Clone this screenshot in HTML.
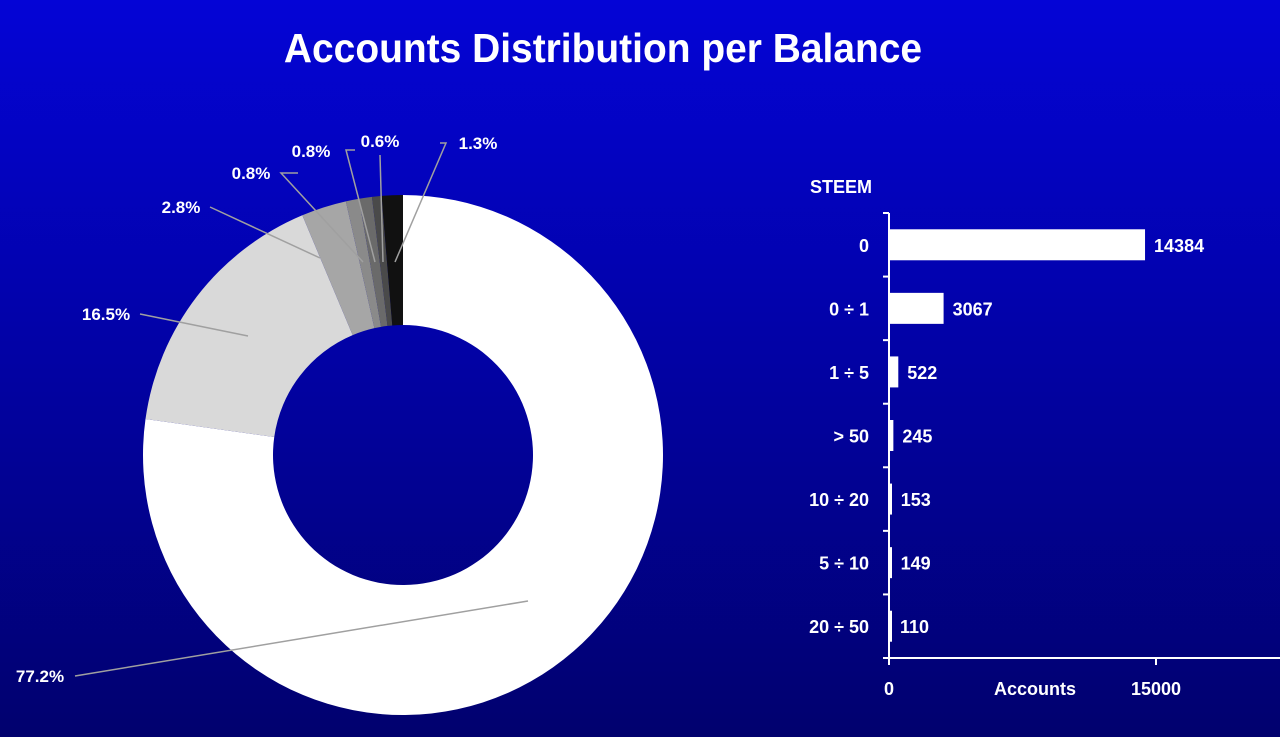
<!DOCTYPE html>
<html><head><meta charset="utf-8"><style>
html,body{margin:0;padding:0;width:1280px;height:737px;overflow:hidden}
body{background:linear-gradient(180deg,#0404d6 0%,#0202a8 45%,#01016e 100%);font-family:"Liberation Sans",sans-serif}
svg text{font-family:"Liberation Sans",sans-serif;font-weight:bold;fill:#fff}
</style></head><body>
<svg width="1280" height="737">
<text x="603" y="62" text-anchor="middle" font-size="41" transform="translate(603 0) scale(0.95 1) translate(-603 0)">Accounts Distribution per Balance</text>
<g id="pie"></g>
<g id="bars"></g>
</svg>
<script>
const pieLabels=["0","0 ÷ 1","1 ÷ 5","10 ÷ 20","5 ÷ 10","20 ÷ 50","> 50"];
const pieValues=[14384,3067,522,153,149,110,245];
const pieColors=["#ffffff","#d9d9d9","#a6a6a6","#8a8a8a","#6a6a6a","#4a4a4a","#111111"];
const barCategories=["0","0 ÷  1","1 ÷  5","> 50","10 ÷  20","5 ÷ 10","20 ÷ 50"];
const barValues=[14384,3067,522,245,153,149,110];
const xTicks=[0,15000];
const NS="http://www.w3.org/2000/svg";
function mk(t,a,p){const e=document.createElementNS(NS,t);for(const k in a)e.setAttribute(k,a[k]);p.appendChild(e);return e;}
const pie=document.getElementById('pie');
const cx=403,cy=455,R=260,r=130;
const total=pieValues.reduce((a,b)=>a+b,0);
let acc=0;
const lab=[[40,682,75,676,528,601],[106,320,140,314,248,336],[181,213,210,207,320,258],[251,179,298,173,363,262],[311,157,355,150,375,262],[380,147,380,155,383,262],[478,149,440,143,395,262]];
function pt(a,rad){return [cx+rad*Math.sin(a),cy-rad*Math.cos(a)];}
pieValues.forEach((v,i)=>{
 const a0=acc/total*2*Math.PI;acc+=v;const a1=acc/total*2*Math.PI;
 const lg=(a1-a0)>Math.PI?1:0;
 const [px0,py0]=pt(a0,R),[px1,py1]=pt(a1,R),[px2,py2]=pt(a1,r),[px3,py3]=pt(a0,r);
 const p=mk('path',{d:`M${px0} ${py0}A${R} ${R} 0 ${lg} 1 ${px1} ${py1}L${px2} ${py2}A${r} ${r} 0 ${lg} 0 ${px3} ${py3}Z`,fill:pieColors[i]},pie);
 
 
});
pieValues.forEach((v,i)=>{
 const L=lab[i];
 const pct=(v/total*100).toFixed(1)+'%';
 const ln=mk('polyline',{points:`${L[2]},${L[3]} ${i==3?'281,173 ':''}${i==4?'346,150 ':''}${i==6?'446,143 ':''}${L[4]},${L[5]}`,fill:'none',stroke:'#a0a0a0','stroke-width':1.5},pie);
 
 
 const t=mk('text',{x:L[0],y:L[1],'text-anchor':'middle','font-size':17},pie);
 t.textContent=pct;
 
 
});
const bars=document.getElementById('bars');
const bx0=889,xMaxPx=1156,yTop=213,yBottom=658,n=barCategories.length,band=(yBottom-yTop)/n;
const xs=v=>bx0+v/15000*(xMaxPx-bx0);
const ax=mk('line',{x1:bx0,y1:yTop,x2:bx0,y2:yBottom,stroke:'#fff','stroke-width':2},bars);

const ax2=mk('line',{x1:bx0-6,y1:yBottom,x2:1280,y2:yBottom,stroke:'#fff','stroke-width':2},bars);

for(let k=0;k<n;k++){const tk=mk('line',{x1:bx0-6,y1:yTop+k*band,x2:bx0,y2:yTop+k*band,stroke:'#fff','stroke-width':2},bars);
 }
xTicks.forEach(v=>{
 const tk=mk('line',{x1:xs(v),y1:yBottom,x2:xs(v),y2:yBottom+7,stroke:'#fff','stroke-width':2},bars);
 
 const t=mk('text',{x:xs(v),y:695,'text-anchor':'middle','font-size':18},bars);t.textContent=v;
 
});
barValues.forEach((v,i)=>{
 const yc=yTop+band*(i+0.5);
 const b=mk('rect',{x:bx0+1,y:yc-15.5,width:Math.max(2,xs(v)-bx0-1),height:31,fill:'#fff'},bars);
 
 const c=mk('text',{x:869,y:yc+7,'text-anchor':'end','font-size':18},bars);c.textContent=barCategories[i];
 
 const t=mk('text',{x:xs(v)+9,y:yc+7,'font-size':18},bars);t.textContent=v;
 
});
const st=mk('text',{x:841,y:193,'text-anchor':'middle','font-size':18},bars);st.textContent='STEEM';

const at=mk('text',{x:1035,y:695,'text-anchor':'middle','font-size':18},bars);at.textContent='Accounts';

</script>
</body></html>
